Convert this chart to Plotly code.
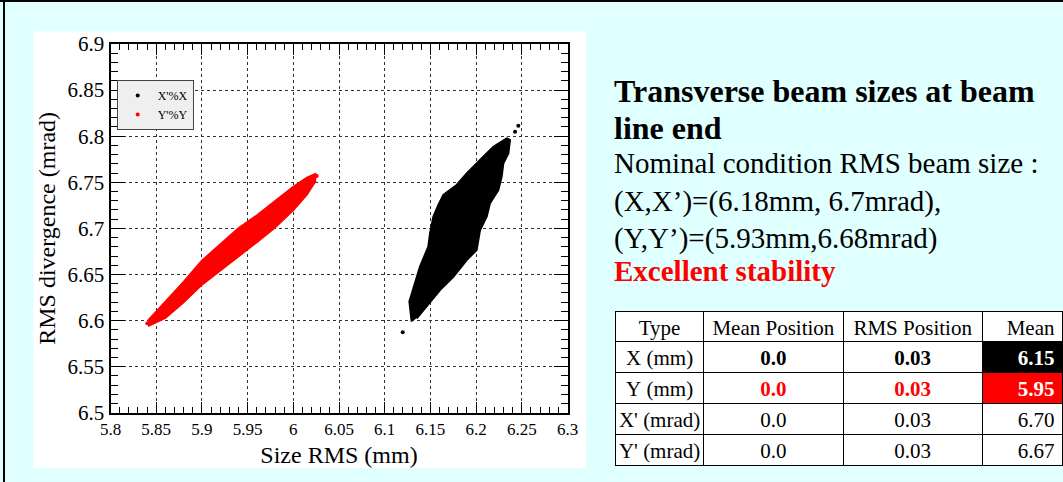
import plotly.graph_objects as go

W, H = 1063, 482
SERIF = "Liberation Serif"

# ---------------- data ----------------
# outline of the dense X'-vs-X cloud (black)
black_cloud_x = [6.1295, 6.1270, 6.1386, 6.1477, 6.1496, 6.1532, 6.1587, 6.1642, 6.1787,
                 6.1897, 6.2043, 6.2189, 6.2335, 6.2371, 6.2353, 6.2298, 6.2280, 6.2243,
                 6.2152, 6.2116, 6.2043, 6.2006, 6.1897, 6.1751, 6.1605, 6.1459, 6.1350]
black_cloud_y = [6.5988, 6.6205, 6.6585, 6.6802, 6.6947, 6.7127, 6.7254, 6.7362, 6.7471,
                 6.7597, 6.7742, 6.7886, 6.7977, 6.7959, 6.7814, 6.7706, 6.7561, 6.7416,
                 6.7272, 6.7127, 6.6983, 6.6766, 6.6657, 6.6476, 6.6332, 6.6151, 6.6025]
# outline of the dense Y'-vs-Y cloud (red): upper edge left->right, lower edge right->left
red_cloud_x = [5.841, 5.860, 5.880, 5.900, 5.920, 5.940, 5.960, 5.980, 6.000, 6.015, 6.024,
               6.024, 6.015, 6.000, 5.980, 5.960, 5.940, 5.920, 5.900, 5.880, 5.860, 5.841]
red_cloud_y = [6.600, 6.620, 6.642, 6.665, 6.683, 6.700, 6.714, 6.729, 6.745, 6.755, 6.759,
               6.751, 6.737, 6.720, 6.701, 6.685, 6.670, 6.655, 6.639, 6.620, 6.603, 6.594]
# isolated points at the tips of the clouds
black_pts_x = [6.1197, 6.2426, 6.2462]
black_pts_y = [6.5873, 6.8049, 6.8114]
red_pts_x = [5.8403, 6.0256]
red_pts_y = [6.5970, 6.7568]

series_names = ["X'%X", "Y'%Y"]

# table content
table_header = ["Type", "Mean Position", "RMS Position", "Mean"]
table_type = ["X (mm)", "Y (mm)", "X' (mrad)", "Y' (mrad)"]
table_mean_pos = ["0.0", "0.0", "0.0", "0.0"]
table_rms_pos = ["0.03", "0.03", "0.03", "0.03"]
table_mean = ["6.15", "5.95", "6.70", "6.67"]

title_lines = ["Transverse beam sizes at beam", "line end"]
body_lines = ["Nominal condition RMS beam size :",
              "(X,X\u2019)=(6.18mm, 6.7mrad),",
              "(Y,Y\u2019)=(5.93mm,6.68mrad)"]
highlight_line = "Excellent stability"

# ---------------- helpers (layout only) ----------------
def fx(px):
    return px / W

def fy(py):
    return 1 - py / H

def nb(s):
    # keep table texts on one line
    return s.replace(" ", "\u00a0")

# ---------------- figure ----------------
fig = go.Figure()

fig.add_trace(go.Scatter(x=black_cloud_x, y=black_cloud_y, mode="lines", fill="toself",
                         fillcolor="black", line=dict(color="black", width=2),
                         showlegend=False, hoverinfo="skip"))
fig.add_trace(go.Scatter(x=red_cloud_x, y=red_cloud_y, mode="lines", fill="toself",
                         fillcolor="#ff0000", line=dict(color="#ff0000", width=2),
                         showlegend=False, hoverinfo="skip"))
fig.add_trace(go.Scatter(x=black_pts_x, y=black_pts_y, mode="markers", name=series_names[0],
                         marker=dict(color="black", size=4)))
fig.add_trace(go.Scatter(x=red_pts_x, y=red_pts_y, mode="markers", name=series_names[1],
                         marker=dict(color="#ff0000", size=4)))

# table: upper block (header + bold X / Y rows) and lower block (X' / Y' rows)
col_w = [88, 139, 139, 80]
aligns = ["center", "center", "center", "right"]
TOP, HEAD_H, ROW_H = 311.5, 30, 31
split = TOP + HEAD_H + 2 * ROW_H
cols = [[nb(s) for s in table_type], table_mean_pos, table_rms_pos, table_mean]

fig.add_trace(go.Table(
    domain=dict(x=[fx(615.5), 1.0], y=[fy(split), fy(TOP)]),
    columnwidth=col_w,
    header=dict(values=[nb(s) for s in table_header], height=HEAD_H, align=aligns,
                fill_color="white", line=dict(color="black", width=1),
                font=dict(family=SERIF, size=21, color="black")),
    cells=dict(values=[c[:2] for c in cols],
               height=ROW_H, align=aligns,
               fill_color=[["white"] * 2, ["white"] * 2, ["white"] * 2, ["black", "#ff0000"]],
               line=dict(color="black", width=1),
               font=dict(family=SERIF, size=21,
                         color=[["black"] * 2, ["black", "#ff0000"], ["black", "#ff0000"],
                                ["white", "white"]],
                         weight=["normal", "bold", "bold", "bold"])),
))
# lower block: the X' row is carried by the header slot, the Y' row by the cells
fig.add_trace(go.Table(
    domain=dict(x=[fx(615.5), 1.0], y=[fy(split + 2 * ROW_H + 2), fy(split)]),
    columnwidth=col_w,
    header=dict(values=[c[2] for c in cols], height=ROW_H, align=aligns,
                fill_color="white", line=dict(color="black", width=1),
                font=dict(family=SERIF, size=21, color="black")),
    cells=dict(values=[c[3:] for c in cols],
               height=ROW_H, align=aligns, fill_color="white",
               line=dict(color="black", width=1),
               font=dict(family=SERIF, size=21, color="black")),
))

axis_common = dict(showline=True, linecolor="black", linewidth=2, mirror="ticks",
                   ticks="inside", tickcolor="black", tickwidth=1, automargin=False,
                   showgrid=True, gridcolor="#333333", gridwidth=1, griddash="dot",
                   zeroline=False, color="black")

fig.update_xaxes(range=[5.8, 6.3], tick0=5.8, dtick=0.05, ticklen=11,
                 minor=dict(dtick=0.01, ticks="inside", ticklen=6, tickcolor="black", showgrid=False),
                 domain=[fx(110.5), fx(567.5)],
                 tickfont=dict(family=SERIF, size=17, color="black"),
                 title=dict(text="Size RMS (mm)", font=dict(family=SERIF, size=24, color="black"),
                            standoff=8),
                 **axis_common)
fig.update_yaxes(range=[6.5, 6.9], tick0=6.5, dtick=0.05, ticklen=14,
                 minor=dict(dtick=0.01, ticks="inside", ticklen=7, tickcolor="black", showgrid=False),
                 domain=[fy(412.8), fy(44)],
                 tickfont=dict(family=SERIF, size=21, color="black"),
                 title=dict(text="RMS divergence (mrad)", font=dict(family=SERIF, size=24, color="black"),
                            standoff=5),
                 **axis_common)

shapes = [
    dict(type="rect", xref="paper", yref="paper", x0=fx(33.5), x1=fx(586), y0=fy(468), y1=fy(31.5),
         fillcolor="white", line=dict(width=0), layer="below"),
    dict(type="line", xref="paper", yref="paper", x0=fx(4), x1=fx(4), y0=0, y1=1,
         line=dict(color="black", width=2)),
    dict(type="line", xref="paper", yref="paper", x0=0, x1=1, y0=fy(1), y1=fy(1),
         line=dict(color="black", width=2)),
]

annotations = []
def add_line(text, baseline, size, bold_=False, color="black"):
    annotations.append(dict(xref="paper", yref="paper", x=fx(612), y=fy(baseline - 0.34 * size),
                            xanchor="left", yanchor="middle", showarrow=False,
                            text=("<b>%s</b>" % text) if bold_ else text,
                            font=dict(family=SERIF, size=size, color=color)))

add_line(title_lines[0], 101.7, 32, True)
add_line(title_lines[1], 139, 32, True)
add_line(body_lines[0], 173.3, 29)
add_line(body_lines[1], 211.7, 29)
add_line(body_lines[2], 248.3, 29)
add_line(highlight_line, 280.7, 29, True, "#ff0000")

fig.update_layout(
    template="none",
    width=W, height=H, margin=dict(l=0, r=0, t=0, b=0, autoexpand=False),
    paper_bgcolor="#e0ffff", plot_bgcolor="white",
    shapes=shapes, annotations=annotations,
    showlegend=True,
    legend=dict(x=fx(116.7), y=fy(80), xanchor="left", yanchor="top",
                bgcolor="#efefef", bordercolor="#444444", borderwidth=1,
                font=dict(family=SERIF, size=12, color="black"), itemwidth=30),
    font=dict(family=SERIF, color="black"),
)

fig.write_html("out.html", config={"displayModeBar": False},
               post_script="document.body.style.margin='0';")
